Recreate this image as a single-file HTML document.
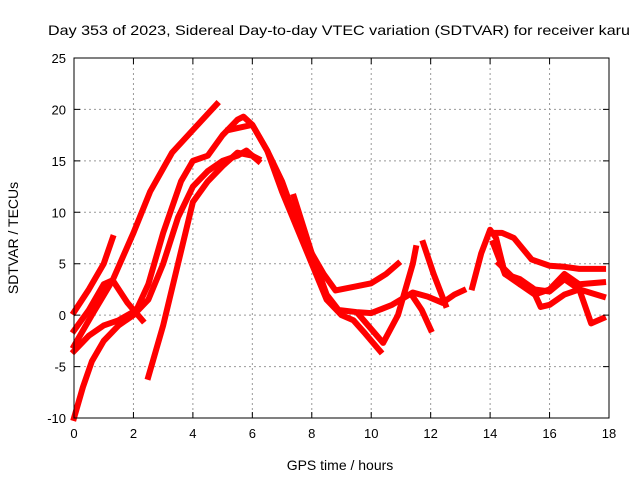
<!DOCTYPE html>
<html><head><meta charset="utf-8"><style>body{margin:0;background:#fff}svg{display:block;font-family:"Liberation Sans",sans-serif}</style></head>
<body>
<svg id="chart" width="640" height="480" viewBox="0 0 640 480" xmlns="http://www.w3.org/2000/svg">
<text x="339" y="35" font-size="14" text-anchor="middle" textLength="582" lengthAdjust="spacingAndGlyphs">Day 353 of 2023, Sidereal Day-to-day VTEC variation (SDTVAR) for receiver karu</text>
<text x="340" y="470" font-size="14" text-anchor="middle">GPS time / hours</text>
<text transform="translate(18,238) rotate(-90)" font-size="14" text-anchor="middle">SDTVAR / TECUs</text>
<g id="grid"></g>
<g id="series"></g>
<rect x="74" y="58" width="535" height="360" fill="none" stroke="#000" stroke-width="1"/>
<g id="ticks"></g>
</svg>
<script>
const xTicks=[0,2,4,6,8,10,12,14,16,18];
const yTicks=[-10,-5,0,5,10,15,20,25];
const s1=[[0,-10],[0.3,-7],[0.6,-4.5],[1,-2.5],[1.5,-1],[2,0],[2.5,1.5],[3,5],[3.5,9.5],[4,12.5],[4.5,14],[5,15],[5.5,15.5],[5.8,16],[6,15.5],[6.2,15.2]];
const s2=[[0,-3],[0.6,0],[1.3,3.4],[2,8],[2.56,12],[3.3,15.8],[4,18],[4.8,20.5]];
const s3=[[0,0.3],[0.5,2.5],[1,5],[1.3,7.5]];
const s4=[[0,-1.5],[0.5,0.5],[1,3],[1.3,3.4],[1.8,1.2],[2.3,-0.5]];
const s5=[[0,-3.5],[0.5,-2],[1,-1],[1.5,-0.5],[2.1,0.5],[2.5,3],[3,8],[3.6,13],[4,15],[4.5,15.5],[5,17.5],[5.5,19],[5.7,19.3],[6,18.5],[6.5,16],[7,12],[7.5,8.5],[8,5],[8.5,1.5],[9,0],[9.4,-0.5],[9.8,-1.8],[10.3,-3.5]];
const s6=[[2.5,-6],[3,-1],[3.5,5],[4,11],[4.5,13],[5,14.5],[5.5,15.8],[6,15.5],[6.2,15]];
const s7=[[5.2,18],[6,18.5],[6.5,16],[7,13],[7.5,9],[8,6],[8.4,4],[8.8,2.4],[9.5,2.8],[10,3.1],[10.5,4],[10.9,5]];
const s8=[[7.4,11.5],[8,6],[8.5,2],[8.9,0.5],[9.5,0.3],[10,0.2],[10.7,1],[11.4,2.2],[11.9,1.8],[12.4,1.2],[12.8,2],[13.1,2.4]];
const s9=[[9.6,0],[10.4,-2.7],[10.9,0],[11.4,5],[11.5,6.5]];
const s10=[[11.4,1.8],[11.7,0.5],[12,-1.4]];
const s11=[[11.75,7],[12.1,4],[12.5,1]];
const s12=[[13.4,2.7],[13.7,6],[14,8.3],[14.2,7.5],[14.5,4],[15,3],[15.4,2.7],[15.7,0.8],[16,1],[16.5,2],[17,2.5],[17.8,1.8]];
const s13=[[14,8],[14.4,8],[14.8,7.5],[15.4,5.4],[16,4.8],[16.5,4.7],[17,4.5],[17.8,4.5]];
const s14=[[14.1,7],[14.5,4],[15,3.5],[15.5,2.5],[16,2.3],[16.5,3.5],[17,2.5],[17.4,-0.8],[17.8,-0.3]];
const s15=[[14.3,5],[15,3],[15.5,2],[16,2.5],[16.5,4],[17,3],[17.8,3.2]];
const allSeries=[s1,s2,s3,s4,s5,s6,s7,s8,s9,s10,s11,s12,s13,s14,s15];
const L=74,R=609,T=58,B=418;
function xs(h){return L+(h-0)/18*(R-L);}
function ys(v){return B-(v+10)/35*(B-T);}
const NS='http://www.w3.org/2000/svg';
const grid=document.getElementById('grid'),ticks=document.getElementById('ticks'),ser=document.getElementById('series');
function mk(tag,attrs,parent){const e=document.createElementNS(NS,tag);for(const k in attrs)e.setAttribute(k,attrs[k]);parent.appendChild(e);return e;}
xTicks.forEach(t=>{const x=xs(t);
 if(t>0&&t<18){const g=mk('line',{x1:x,x2:x,y1:T,y2:B,stroke:'#999','stroke-dasharray':'2,3'},grid);
 
 }
 const tk=mk('path',{d:`M${x},${B}v-6M${x},${T}v6`,stroke:'#000'},ticks);
 
 
 const lb=mk('text',{x:x,y:B+20,'font-size':13,'text-anchor':'middle'},ticks);lb.textContent=t;
 
 });
yTicks.forEach(t=>{const y=ys(t);
 if(t>-10&&t<25){const g=mk('line',{x1:L,x2:R,y1:y,y2:y,stroke:'#999','stroke-dasharray':'2,3'},grid);
 
 }
 const tk=mk('path',{d:`M${L},${y}h6M${R},${y}h-6`,stroke:'#000'},ticks);
 
 
 const lb=mk('text',{x:L-8,y:y+5,'font-size':13,'text-anchor':'end'},ticks);lb.textContent=t;
 
 });
allSeries.forEach((s,i)=>{const p=mk('polyline',{points:s.map(d=>xs(d[0])+','+ys(d[1])).join(' '),fill:'none',stroke:'#f00','stroke-width':6,'stroke-linejoin':'round','stroke-linecap':'square'},ser);
 
 });
</script>
</body></html>
